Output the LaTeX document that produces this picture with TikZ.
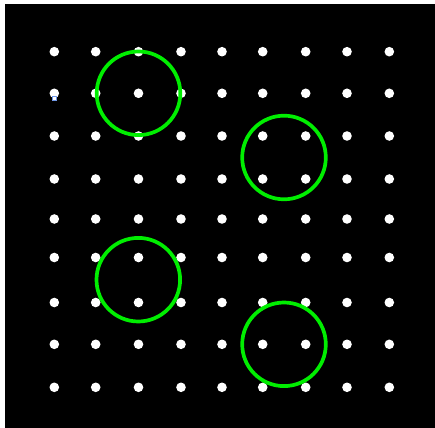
\documentclass[tikz,border=0pt]{standalone}
\definecolor{ringgreen}{RGB}{0,238,0}
\definecolor{handleblue}{RGB}{110,150,230}
\begin{document}
\begin{tikzpicture}[x=0.02cm, y=-0.02cm, line join=round, line cap=round]
			\def \rdot{4.8}
			\def \rring{41.8}
			\useasboundingbox (0,0) rectangle (435,428);
			\fill[black] (5,4) rectangle (435,428);
			% grid of dots
			\foreach \x in {54.3,95.7,138.5,181,222,262.7,305.7,347,389.3}
				\foreach \y in {51.7,93.3,136,179,219,257.5,302.5,344.3,387.3}
					\fill[white] (\x,\y) circle (\rdot);
			% small handle
			\draw[handleblue, fill=white, line width=0.4pt] (52,96) rectangle (56.6,100.6);
			% rings
			\draw[ringgreen, line width=0.074cm] (138.5,93.3) circle (\rring);
			\draw[ringgreen, line width=0.074cm] (284,157.5) circle (\rring);
			\draw[ringgreen, line width=0.074cm] (138.3,279.7) circle (\rring);
			\draw[ringgreen, line width=0.074cm] (284,344.3) circle (\rring);
		\end{tikzpicture}
\end{document}
